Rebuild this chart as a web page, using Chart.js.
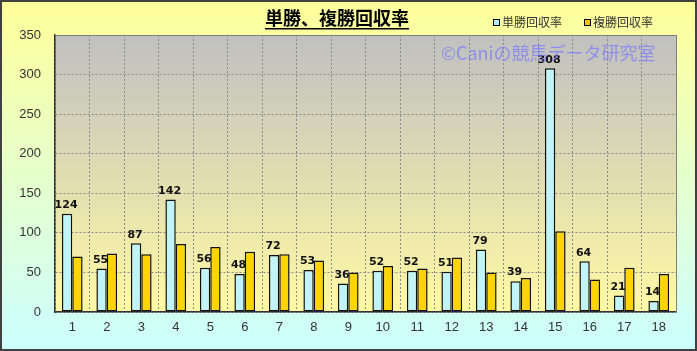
<!DOCTYPE html>
<html>
<head>
<meta charset="utf-8">
<script src="https://cdn.jsdelivr.net/npm/chart.js@4/dist/chart.umd.min.js"></script>
<style>
  html, body { margin: 0; padding: 0; background: #fff; }
  #wrap { width: 697px; height: 351px; position: relative; }
</style>
</head>
<body>
<div id="wrap"><canvas id="c" width="697" height="351"></canvas></div>
<script>
const labels = ['1','2','3','4','5','6','7','8','9','10','11','12','13','14','15','16','17','18']
const winReturn = [124, 55, 87, 142, 56, 48, 72, 53, 36, 52, 52, 51, 79, 39, 308, 64, 21, 14]
const placeReturn = [70, 74, 73, 86, 82, 76, 73, 65, 50, 58, 55, 69, 50, 43, 102, 41, 56, 48]
const yTicks = [0, 50, 100, 150, 200, 250, 300, 350]

const jp = '"Noto Sans CJK JP", sans-serif'

// horizontal shading so the bars look like cylinders
function barFill(light, dark) {
  return function(context) {
    const el = context.chart.getDatasetMeta(context.datasetIndex).data[context.dataIndex]
    if (!el || !el.width) return light
    const x0 = el.x - el.width / 2
    const g = context.chart.ctx.createLinearGradient(x0, 0, x0 + el.width, 0)
    g.addColorStop(0, dark)
    g.addColorStop(0.45, light)
    g.addColorStop(1, dark)
    return g
  }
}

const backdrop = {
  id: 'backdrop',
  beforeDraw(chart) {
    const { ctx, chartArea: a, width, height } = chart
    ctx.save()
    let g = ctx.createLinearGradient(0, 0, 0, height)
    g.addColorStop(0, '#ffff99')
    g.addColorStop(1, '#ccffff')
    ctx.fillStyle = g
    ctx.fillRect(0, 0, width, height)
    g = ctx.createLinearGradient(0, a.top, 0, a.bottom)
    g.addColorStop(0, '#c0c0c0')
    g.addColorStop(1, '#fff9a4')
    ctx.fillStyle = g
    ctx.fillRect(a.left, a.top, a.right - a.left, a.bottom - a.top)
    ctx.restore()
  },
  afterDraw(chart) {
    const { ctx, chartArea: a, width, height } = chart
    ctx.save()
    // plot frame
    ctx.strokeStyle = '#808080'
    ctx.lineWidth = 1
    ctx.beginPath()
    ctx.moveTo(a.left, a.top + 0.5)
    ctx.lineTo(a.right + 0.5, a.top + 0.5)
    ctx.lineTo(a.right + 0.5, a.bottom)
    ctx.stroke()

    // title
    ctx.fillStyle = '#000'
    ctx.font = 'bold 18px ' + jp
    ctx.textAlign = 'center'
    ctx.textBaseline = 'alphabetic'
    const t = '単勝、複勝回収率'
    ctx.fillText(t, 337, 25)
    const tw = ctx.measureText(t).width
    ctx.fillRect(337 - tw / 2, 28, tw, 1.5)

    // legend
    const items = [['単勝回収率', '#b4eef4', 493], ['複勝回収率', '#f5c400', 584]]
    ctx.font = '12px ' + jp
    ctx.textAlign = 'left'
    ctx.textBaseline = 'middle'
    items.forEach(([txt, col, x]) => {
      ctx.fillStyle = col
      ctx.fillRect(x, 19, 6, 6)
      ctx.strokeStyle = '#000'
      ctx.lineWidth = 1
      ctx.strokeRect(x + 0.5, 19.5, 6, 6)
      ctx.fillStyle = '#333'
      ctx.fillText(txt, x + 9, 22)
    })

    // data labels above win bars
    const meta = chart.getDatasetMeta(0)
    ctx.font = 'bold 11px "DejaVu Sans", sans-serif'
    ctx.fillStyle = '#111'
    ctx.textAlign = 'center'
    ctx.textBaseline = 'bottom'
    meta.data.forEach((bar, i) => {
      ctx.fillText(String(winReturn[i]), bar.x - 1, bar.y - 3)
    })

    // watermark
    ctx.font = '18px ' + jp
    ctx.fillStyle = 'rgba(120, 120, 255, 0.7)'
    ctx.textAlign = 'left'
    ctx.textBaseline = 'middle'
    ctx.fillText('©Caniの競馬データ研究室', 441, 53)

    // outer border
    ctx.strokeStyle = '#404040'
    ctx.lineWidth = 2
    ctx.strokeRect(1, 1, width - 2, height - 2)
    ctx.restore()
  }
}

new Chart(document.getElementById('c'), {
  type: 'bar',
  data: {
    labels: labels,
    datasets: [
      {
        label: '単勝回収率',
        data: winReturn,
        backgroundColor: barFill('#c0f4f8', '#7ec4d0'),
        borderColor: '#111',
        borderWidth: 1.5,
        borderSkipped: false,
        categoryPercentage: 0.6,
        barPercentage: 1.0
      },
      {
        label: '複勝回収率',
        data: placeReturn,
        backgroundColor: barFill('#ffd400', '#e0a800'),
        borderColor: '#111',
        borderWidth: 1.5,
        borderSkipped: false,
        categoryPercentage: 0.6,
        barPercentage: 1.0
      }
    ]
  },
  options: {
    responsive: false,
    animation: false,
    layout: { padding: { top: 35, right: 21, left: 0, bottom: 0 } },
    plugins: {
      legend: { display: false },
      tooltip: { enabled: false }
    },
    scales: {
      x: {
        grid: {
          color: '#8a8a8a',
          lineWidth: 1,
          drawTicks: false
        },
        border: { color: '#333', width: 1.5, dash: [2, 2] },
        ticks: {
          color: '#333',
          padding: 8,
          font: { family: '"Liberation Sans", sans-serif', size: 13 }
        },
        afterFit(scale) { scale.height = 39 }
      },
      y: {
        min: 0,
        max: 350,
        afterBuildTicks(scale) { scale.ticks = yTicks.map(v => ({ value: v })) },
        grid: {
          color: '#8a8a8a',
          lineWidth: 1,
          drawTicks: false
        },
        border: { color: '#333', width: 1.5, dash: [2, 2] },
        ticks: {
          color: '#333',
          padding: 14,
          font: { family: '"Liberation Sans", sans-serif', size: 13 }
        },
        afterFit(scale) { scale.width = 55 }
      }
    }
  },
  plugins: [backdrop]
})
</script>
</body>
</html>
